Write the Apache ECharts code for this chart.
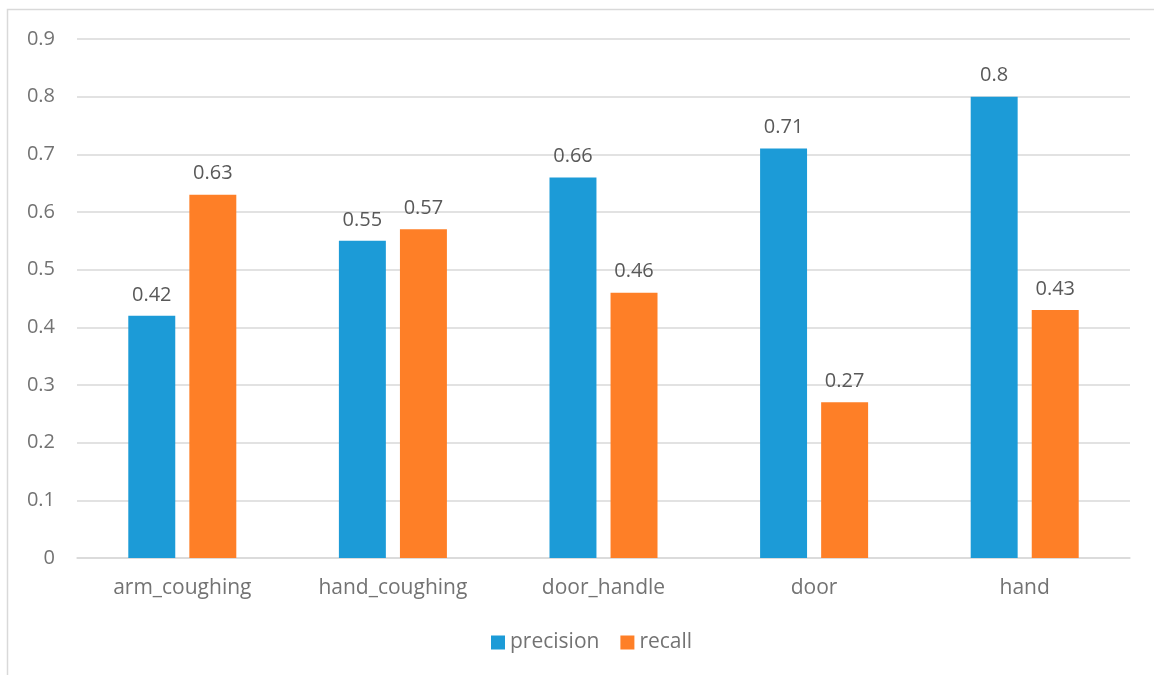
<!DOCTYPE html>
<html>
<head>
<meta charset="utf-8">
<script src="https://cdn.jsdelivr.net/npm/echarts@6/dist/echarts.min.js"></script>
<style>
  html, body { margin: 0; padding: 0; background: #fff; }
  #chart { width: 1154px; height: 675px; }
</style>
</head>
<body>
<div id="chart"></div>
<script>
const categories = ['arm_coughing', 'hand_coughing', 'door_handle', 'door', 'hand'];
const precision = [0.42, 0.55, 0.66, 0.71, 0.8];
const recall = [0.63, 0.57, 0.46, 0.27, 0.43];
const yTicks = { min: 0, max: 0.9, interval: 0.1 };

const FONT = '"Open Sans", "Noto Sans", sans-serif';
const AXIS_TEXT = '#737373';
const chart = echarts.init(document.getElementById('chart'));

const barLabel = {
  show: true,
  position: 'top',
  distance: 11,
  color: '#595959',
  fontFamily: FONT,
  fontSize: 20
};

chart.setOption({
  animation: false,
  textStyle: { fontFamily: FONT },
  graphic: [{
    type: 'rect',
    shape: { x: 7.5, y: 9.5, width: 1200, height: 700 },
    style: { fill: 'none', stroke: '#D9D9D9', lineWidth: 1.5 },
    silent: true
  }],
  grid: { left: 77, right: 24, top: 39, bottom: 117 },
  legend: {
    bottom: 17,
    left: 486,
    itemWidth: 14,
    itemHeight: 14,
    itemGap: 21,
    icon: 'rect',
    textStyle: { color: AXIS_TEXT, fontSize: 21, fontFamily: FONT },
    data: ['precision', 'recall']
  },
  xAxis: {
    type: 'category',
    data: categories,
    axisLine: { lineStyle: { color: '#D9D9D9', width: 1.5 } },
    axisTick: { show: false },
    axisLabel: { color: AXIS_TEXT, fontSize: 21, fontFamily: FONT, margin: 20 }
  },
  yAxis: {
    type: 'value',
    min: yTicks.min,
    max: yTicks.max,
    interval: yTicks.interval,
    axisLine: { show: false },
    axisTick: { show: false },
    axisLabel: {
      color: AXIS_TEXT, fontSize: 20, fontFamily: FONT, margin: 22,
      formatter: v => String(Math.round(v * 10) / 10)
    },
    splitLine: { lineStyle: { color: '#D9D9D9', width: 1.5 } }
  },
  series: [
    {
      name: 'precision',
      type: 'bar',
      data: precision,
      barWidth: '22.3%',
      barGap: '30%',
      itemStyle: { color: '#1C9BD7' },
      label: barLabel
    },
    {
      name: 'recall',
      type: 'bar',
      data: recall,
      barWidth: '22.3%',
      itemStyle: { color: '#FE7F27' },
      label: barLabel
    }
  ]
});
</script>
</body>
</html>
